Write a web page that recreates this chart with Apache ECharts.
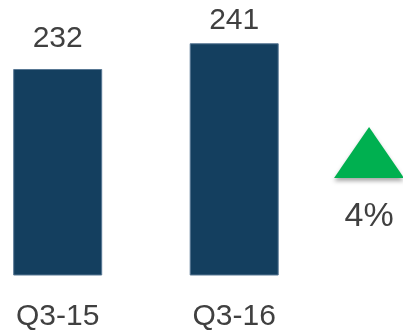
<!DOCTYPE html>
<html>
<head>
<meta charset="utf-8">
<script src="https://cdn.jsdelivr.net/npm/echarts@6/dist/echarts.min.js"></script>
<style>
html,body{margin:0;padding:0;background:#fff;}
#chart{width:403px;height:333px;}
</style>
</head>
<body>
<div id="chart"></div>
<script>
var categories = ['Q3-15', 'Q3-16'];
var values = [232, 241];
var labelGaps = [15, 8];
var changeText = ['4%'];
var changePos = [[1.764, 202.8]];

var chart = echarts.init(document.getElementById('chart'));
var font = 'Liberation Sans, Arial, sans-serif';
var textColor = '#404040';

chart.setOption({
  animation: false,
  grid: { left: 57.7, width: 176.5, top: 17.5, bottom: 58, containLabel: false },
  xAxis: [{
    type: 'category',
    boundaryGap: false,
    data: categories,
    axisLine: { show: false },
    axisTick: { show: false },
    axisLabel: { fontSize: 30, color: textColor, fontFamily: font, margin: 27, interval: 0 }
  }, {
    type: 'value', min: 0, max: 1, show: false
  }],
  yAxis: {
    type: 'value', min: 160, max: 250, show: false
  },
  series: [{
    type: 'bar',
    barWidth: 89,
    data: values.map(function (v, i) {
      return {
        value: v,
        label: { distance: labelGaps[i] }
      };
    }),
    itemStyle: { color: '#143F5F', borderColor: '#587894', borderWidth: 1 },
    label: {
      show: true, position: 'top', fontSize: 30, color: textColor, fontFamily: font
    }
  }, {
    type: 'scatter',
    xAxisIndex: 1,
    clip: false,
    symbol: 'triangle',
    symbolSize: [70, 51],
    data: changePos.map(function (p, i) {
      return { value: p, label: { formatter: changeText[i] } };
    }),
    itemStyle: {
      color: '#00B050', opacity: 1,
      shadowColor: 'rgba(0,0,0,0.35)', shadowBlur: 4, shadowOffsetY: 3
    },
    label: {
      show: true, position: 'bottom', distance: 22,
      fontSize: 34, color: textColor, fontFamily: font
    }
  }]
});
</script>
</body>
</html>
